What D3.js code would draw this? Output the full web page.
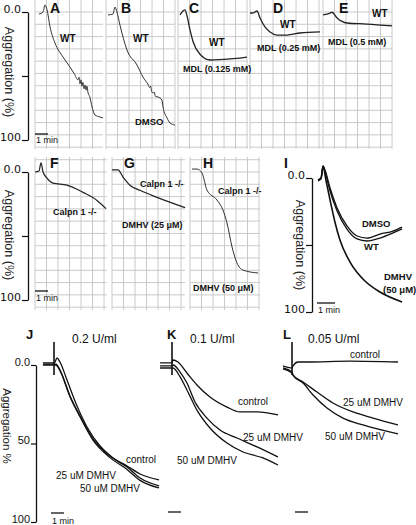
<!DOCTYPE html>
<html><head><meta charset="utf-8">
<script src="https://cdn.jsdelivr.net/npm/d3@7"></script>
<style>body{margin:0;background:#fff}svg{display:block}</style>
</head><body>
<svg id="c" width="416" height="525"></svg>
<script>
// ---------- DATA (time in min, aggregation in %) ----------
const A_WT = [[0,1.6],[0.31,0],[0.46,-5.5],[0.62,-1.6],[0.85,11.7],[1.23,24.2],[1.85,35.2],[2.38,43],[2.7,48],[3.0,53],[3.08,51],[3.15,56],[3.23,53],[3.31,58],[3.38,55],[3.46,60],[3.54,57],[3.62,61],[3.69,58],[3.77,63],[3.9,66],[4.08,74.2],[4.31,80.5],[4.69,82],[4.92,82.8]];
const B_WT = [[0,2.3],[0.38,1.6],[0.54,-3.9],[0.69,0],[0.92,10.2],[1.46,29.7],[2.23,41.4],[2.69,50.8],[3.1,57],[3.2,59],[3.28,58],[3.36,62],[3.46,63.3],[3.55,62.5],[3.65,66],[3.85,66.4],[4.15,68.8],[4.23,74.2],[4.54,82.8],[4.77,86.7],[5.15,88.3]];
const C_WT = [[0,2.3],[0.23,-0.8],[0.38,-1.6],[0.54,3],[0.77,14],[1,23],[1.54,33],[2.31,37.5],[3.85,36.7],[5.15,35.2]];
const D_WT = [[0,0.8],[0.23,0.8],[0.54,-0.8],[0.77,4.7],[1.15,11.7],[1.54,15.6],[2.08,18],[2.85,18],[3.85,16.4],[5.38,15.6]];
const E_WT = [[0,2.3],[0.54,0.8],[0.69,0.2],[1.08,4.7],[1.85,8.6],[3.38,9.4],[5.31,10.9]];
const F_KO = [[0,0],[0.31,-0.8],[0.46,-7.1],[0.62,0],[0.92,4.8],[1.38,8.7],[2.46,10.3],[3.69,15.9],[4.77,22.2],[5.46,28.6]];
const G_KO = [[0,-1.6],[0.46,-1.6],[0.85,4],[1.38,10.3],[2.15,14.3],[3.46,19.8],[5.62,27.8]];
const H_KO = [[0,-2.3],[0.38,-2.3],[0.77,0.8],[1.15,14.1],[1.92,21.9],[2.38,29.7],[2.69,39.8],[3.08,58.6],[3.46,71.1],[3.92,76.6],[5.08,78.9]];
const I_DMSO = [[0,1.5],[0.17,0],[0.28,-9],[0.39,-6],[0.67,7.5],[1.06,22.4],[1.61,35.8],[2.17,43.3],[2.72,44.8],[3.44,41.8],[4.17,39.6],[4.67,36.6]];
const I_WT = [[0,2.2],[0.17,0.7],[0.28,-8.2],[0.39,-4.5],[0.67,9.7],[1.06,24.6],[1.61,38.1],[2.17,45.5],[2.72,47],[3.44,44.8],[4.17,41],[4.67,38]];
const I_DMHV = [[0,1.5],[0.17,0],[0.28,-9],[0.44,1.5],[0.67,16.4],[0.94,32.8],[1.22,46.3],[1.78,62.7],[2.61,76.9],[3.44,85.1],[4.67,92.5]];
const J_ctrl = [[-0.85,-1.3],[0,-1.3],[0.08,-1.9],[0.23,-4.5],[0.46,-1.9],[1,9.6],[1.77,26.1],[2.54,39.5],[3.54,51.6],[4.54,59.2],[5.62,64.3],[6.62,69.4],[8.08,73.2]];
const J_25 = [[-0.85,-0.6],[0,-0.6],[0.15,-0.6],[0.46,3.2],[1.23,19.7],[2,32.5],[3,47.1],[4.31,58],[5.62,65],[6.62,72],[8.08,77]];
const J_50 = [[-0.85,0],[0,0],[0.15,0],[0.46,3.6],[1.23,20.2],[2,33],[3,47.8],[4.31,59],[5.62,66.5],[6.62,73.5],[8.08,78.3]];
const K_ctrl = [[-0.92,-1.3],[0,-1.3],[0.08,-3.2],[0.46,-1.9],[1.15,5.1],[1.92,12.7],[2.92,20.4],[4.23,26.8],[5.23,29.9],[6.54,29.9],[8.15,31.8]];
const K_25 = [[-0.92,0.6],[0,0.6],[0.08,0],[0.62,4.5],[1.15,11.5],[1.77,23.6],[2.69,33.8],[3.69,41.4],[5,46.5],[6.54,52.2],[8.15,58.6]];
const K_50 = [[-0.92,1.9],[0,1.9],[0.08,1.9],[0.62,7.6],[1.15,15.9],[1.92,28.7],[2.92,40.1],[4.23,49.7],[5.46,55.4],[7,59.2],[8.15,63.7]];
const L_ctrl = [[-0.69,0.6],[0,1.9],[0.08,0.6],[0.46,-1.9],[1.15,-1.9],[4.46,-2.5],[8.15,-1.9]];
const L_25 = [[-0.69,1.9],[0,4.5],[0.08,6.4],[0.85,10.8],[1.92,17.2],[3.15,24.2],[4.69,29.9],[6.23,33.8],[8.15,38.2]];
const L_50 = [[-0.69,2.5],[0,5.1],[0.08,6.4],[0.85,11.5],[1.62,19.1],[2.69,27.4],[3.92,33.8],[5.46,38.2],[8.15,43.9]];
const injMarker = [-14.6, 6.4];           // agonist addition marker (aggregation units)
const topTickLabels = ["0.0", "", "100"];
const bottomTickLabels = ["0.0", "50", "100"];
const tickVals = [0, 50, 100];

// ---------- DRAWING ----------
const svg = d3.select('#c');
const SANS = "'Liberation Sans', Arial, sans-serif";
const AXF = "'DejaVu Sans', sans-serif";

function scales(x0, pxMin, y0, px100) {
  return {
    x: d3.scaleLinear().domain([0, 1]).range([x0, x0 + pxMin]),
    y: d3.scaleLinear().domain([0, 100]).range([y0, y0 + px100])
  };
}
function grid(sc, xa, xb, ya, yb) {
  const g = svg.append('g').attr('stroke', '#c4c4c4').attr('stroke-width', 0.9);
  const tStep = 0.885, aStep = 9.6;
  const t0 = sc.x.invert(xa), t1 = sc.x.invert(xb);
  d3.range(t0, t1 + 0.01, tStep).forEach(t => {
    g.append('line').attr('x1', sc.x(t)).attr('x2', sc.x(t)).attr('y1', ya).attr('y2', yb);
  });
  const a0 = sc.y.invert(ya), a1 = sc.y.invert(yb);
  const start = Math.ceil(a0 / aStep) * aStep;
  d3.range(start, a1, aStep).forEach(a => {
    g.append('line').attr('x1', xa).attr('x2', xb).attr('y1', sc.y(a)).attr('y2', sc.y(a));
  });
}
function trace(sc, data, color, w) {
  const line = d3.line().x(d => sc.x(d[0])).y(d => sc.y(d[1])).curve(d3.curveMonotoneX);
  svg.append('path').datum(data).attr('d', line).attr('fill', 'none')
    .attr('stroke', color).attr('stroke-width', w).attr('stroke-linejoin', 'round');
}
function text(x, y, s, size, weight, anchor, font) {
  return svg.append('text').attr('x', x).attr('y', y).text(s)
    .attr('font-family', font || SANS).attr('font-size', size)
    .attr('font-weight', weight || 'normal').attr('text-anchor', anchor || 'start').attr('fill', '#111');
}
function yAxis(axisX, sc, labels, font, fsize, tlen) {
  const ax = d3.axisLeft(sc.y).tickValues(tickVals).tickSize(tlen).tickSizeOuter(0)
    .tickFormat((d, i) => labels[i]).tickPadding(1);
  const g = svg.append('g').attr('transform', `translate(${axisX},0)`).call(ax);
  g.select('.domain').attr('stroke', '#111').attr('stroke-width', 1.3);
  g.selectAll('.tick line').attr('stroke', '#111').attr('stroke-width', 1.2);
  g.selectAll('.tick text').attr('font-family', font).attr('font-size', fsize).attr('fill', '#111').attr('dy', '0');
  return g;
}
function vlabel(x, y, s, size) {
  svg.append('text').attr('transform', `translate(${x},${y}) rotate(90)`).text(s)
    .attr('font-family', SANS).attr('font-size', size).attr('text-anchor', 'middle').attr('fill', '#222');
}
function scaleBar(sc, xStart, y, label, ty) {
  const w = sc.x(1) - sc.x(0);
  svg.append('line').attr('x1', xStart).attr('x2', xStart + w).attr('y1', y).attr('y2', y)
    .attr('stroke', '#111').attr('stroke-width', 1.3);
  if (label) text(xStart + 1, ty, label, 9, 'normal');
}

// ----- Top row -----
const sA = scales(39, 13, 12, 128), sB = scales(108, 13, 12, 128), sC = scales(180, 13, 12, 128),
      sD = scales(250, 13, 12, 128), sE = scales(323, 13, 12, 128);
grid(sA, 35, 103, 0, 149); grid(sB, 106, 175, 0, 149); grid(sC, 178, 248, 0, 149);
grid(sD, 250, 322, 0, 149); grid(sE, 323, 392, 0, 149);
const TC = '#333';
trace(sA, A_WT, TC, 1); trace(sB, B_WT, TC, 1); trace(sC, C_WT, '#222', 1.3);
trace(sD, D_WT, '#222', 1.3); trace(sE, E_WT, '#222', 1.3);
yAxis(28, sA, topTickLabels, AXF, 11, 6);
vlabel(5, 72, 'Aggregation (%)', 12.5);
scaleBar(sA, 35, 134, '1 min', 143);
text(50, 13, 'A', 14, 'bold'); text(121, 13, 'B', 14, 'bold'); text(189, 13, 'C', 14, 'bold');
text(273, 13, 'D', 14, 'bold'); text(339, 13, 'E', 14, 'bold');
text(60, 42, 'WT', 10, 'bold'); text(133, 42, 'WT', 10, 'bold'); text(135, 125, 'DMSO', 9.5, 'bold');
text(209, 46, 'WT', 10, 'bold'); text(183, 72, 'MDL (0.125 mM)', 9, 'bold');
text(280, 28, 'WT', 10, 'bold'); text(257, 51, 'MDL (0.25 mM)', 9, 'bold');
text(372, 17, 'WT', 10, 'bold'); text(328, 45, 'MDL (0.5 mM)', 9, 'bold');

// ----- Middle row -----
const sF = scales(35, 13, 172, 128), sG = scales(112, 13, 172, 128), sH = scales(192, 13, 172, 128);
grid(sF, 35, 107, 157, 310); grid(sG, 112, 185, 157, 310); grid(sH, 190, 260, 157, 310);
trace(sF, F_KO, '#222', 1.2); trace(sG, G_KO, '#222', 1.2); trace(sH, H_KO, '#333', 1);
yAxis(28, sF, topTickLabels, AXF, 11, 6);
vlabel(5, 235, 'Aggregation (%)', 12.5);
scaleBar(sF, 35, 291, '1 min', 301);
text(50, 168, 'F', 14, 'bold'); text(124, 168, 'G', 14, 'bold'); text(203, 168, 'H', 14, 'bold');
text(53, 215, 'Calpn 1 -/-', 9, 'bold');
text(140, 187, 'Calpn 1 -/-', 9, 'bold'); text(122, 228, 'DMHV (25 μM)', 9, 'bold');
text(218, 194, 'Calpn 1 -/-', 9, 'bold'); text(193, 291, 'DMHV (50 μM)', 9, 'bold');

// ----- Panel I -----
const sI = scales(318, 18, 178, 134);
trace(sI, I_DMHV, '#111', 1.6); trace(sI, I_WT, '#111', 1.3); trace(sI, I_DMSO, '#111', 1.3);
yAxis(312, sI, topTickLabels, AXF, 11, 6);
vlabel(296, 245, 'Aggregation (%)', 12.5);
scaleBar(sI, 317, 303, '1 min', 313);
text(284, 168, 'I', 14, 'bold');
text(362, 227, 'DMSO', 9.5, 'bold'); text(364, 250, 'WT', 9.5, 'bold');
text(384, 280, 'DMHV', 9.5, 'bold'); text(383, 293, '(50 μM)', 9.5, 'bold');

// ----- Bottom row -----
const sJ = scales(54, 13, 365, 157), sK = scales(172, 13, 365, 157), sL = scales(292, 13, 365, 157);
function marker(sc) {
  svg.append('line').attr('x1', sc.x(0)).attr('x2', sc.x(0))
    .attr('y1', sc.y(injMarker[0])).attr('y2', sc.y(injMarker[1]))
    .attr('stroke', '#111').attr('stroke-width', 1.6);
}
[[sJ, [J_ctrl, J_25, J_50]], [sK, [K_ctrl, K_25, K_50]], [sL, [L_ctrl, L_25, L_50]]].forEach(([sc, arr]) => {
  arr.forEach(d => trace(sc, d, '#111', 1.3));
  marker(sc);
});
yAxis(36, sJ, bottomTickLabels, SANS, 11, 5);
vlabel(3, 426, 'Aggregation %', 11.5);
scaleBar(sJ, 51, 513, '1 min', 524);
scaleBar(sK, 168, 512); scaleBar(sL, 295, 512);
text(26, 339, 'J', 13, 'bold'); text(167, 339, 'K', 13, 'bold'); text(283, 339, 'L', 13, 'bold');
text(72, 343, '0.2 U/ml', 12); text(190, 343, '0.1 U/ml', 12); text(308, 343, '0.05 U/ml', 12);
text(126, 463, 'control', 10); text(56, 479, '25 uM DMHV', 10); text(80, 492, '50 uM DMHV', 10);
text(238, 405, 'control', 10); text(243, 441, '25 uM DMHV', 10); text(177, 464, '50 uM DMHV', 10);
text(350, 358, 'control', 10); text(343, 406, '25 uM DMHV', 10); text(325, 440, '50 uM DMHV', 10);
</script>
</body></html>
